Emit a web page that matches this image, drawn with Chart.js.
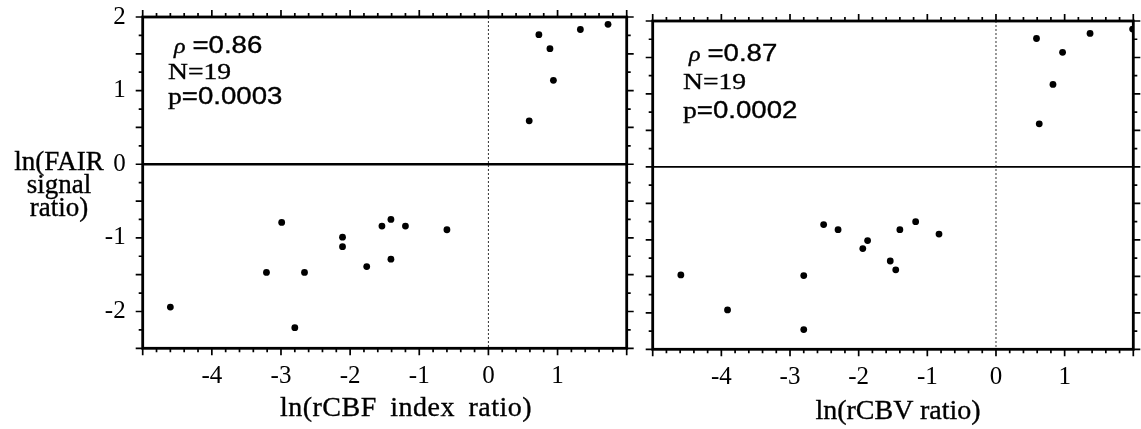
<!DOCTYPE html>
<html>
<head>
<meta charset="utf-8">
<script src="https://cdn.jsdelivr.net/npm/chart.js@4.4.1/dist/chart.umd.min.js"></script>
<style>
html,body{margin:0;padding:0;background:#fff;width:1141px;height:429px;overflow:hidden}
#wrap{position:relative;width:1141px;height:429px}
canvas{position:absolute;top:0}
.t{position:absolute;font-family:'Liberation Serif','DejaVu Serif',serif;color:#000;white-space:nowrap;-webkit-text-stroke:.35px #000}
.sans{font-family:'Liberation Sans',Arial,sans-serif}
.ann{font-size:23px;line-height:25px;transform:scaleX(1.2);transform-origin:0 0}
.ann i{font-size:20px;padding-left:5px}
</style>
</head>
<body>
<div id="wrap">
  <canvas id="c-cbf" width="634" height="429" style="left:0"></canvas>
  <canvas id="c-cbv" width="505" height="429" style="left:636px"></canvas>

  <div class="t" style="left:0;top:150px;width:118px;text-align:center;font-size:27px;line-height:23px">ln(FAIR<br>signal<br>ratio)</div>

  <div class="t ann" style="left:168px;top:33px">
    <div><i>ρ</i> <span class="sans">=0.86</span></div>
    <div>N=19</div>
    <div>p<span class="sans">=0.0003</span></div>
  </div>
  <div class="t ann" style="left:683px;top:39px;line-height:28px">
    <div><i>ρ</i> <span class="sans">=0.87</span></div>
    <div>N=19</div>
    <div>p<span class="sans">=0.0002</span></div>
  </div>

  <div class="t" style="left:406px;top:392px;transform:translateX(-50%);font-size:28px;line-height:30px;word-spacing:6px;letter-spacing:.5px">ln(rCBF index ratio)</div>
  <div class="t" style="left:898px;top:395px;transform:translateX(-50%);font-size:28px;line-height:30px">ln(rCBV ratio)</div>
</div>
<script>
// axes: both panels share the same ranges
var xRange = [-5, 2];
var yRange = [-2.5, 2];
var xLabelTicks = [-4, -3, -2, -1, 0, 1];
var yLabelTicks = [-2, -1, 0, 1, 2];
var xMinorStep = 0.2;
var yMinorStep = 0.25;

// left panel: ln(rCBF index ratio) vs ln(FAIR signal ratio)
var cbfX = [-4.60, -2.99, -3.21, -2.66, -2.80, -2.11, -2.11, -1.76, -1.54, -1.41, -1.41, -1.20, -0.60, 0.59, 0.73, 0.89, 0.94, 1.33, 1.73];
var cbfY = [-1.94, -0.79, -1.47, -1.47, -2.22, -0.99, -1.12, -1.39, -0.84, -0.75, -1.29, -0.84, -0.89, 0.59, 1.76, 1.57, 1.14, 1.83, 1.90];

// right panel: ln(rCBV ratio) vs ln(FAIR signal ratio)
var cbvX = [-4.59, -3.91, -2.80, -2.80, -2.51, -2.30, -1.94, -1.87, -1.54, -1.46, -1.40, -1.17, -0.83, 0.59, 0.63, 0.83, 0.97, 1.37, 1.99];
var cbvY = [-1.48, -1.96, -1.49, -2.23, -0.79, -0.86, -1.12, -1.01, -1.29, -1.41, -0.86, -0.75, -0.92, 1.76, 0.59, 1.13, 1.57, 1.83, 1.89];

(function () {
  'use strict';
  var SERIF = "'Liberation Serif', 'DejaVu Serif', serif";

  function steps(lo, hi, st) { var out = [], n = Math.round((hi - lo) / st); for (var i = 0; i <= n; i++) out.push(lo + i * st); return out; }
  function isInt(v) { return Math.abs(v - Math.round(v)) < 1e-6; }
  function isHalf(v) { return Math.abs(v * 2 - Math.round(v * 2)) < 1e-6; }

  // zero lines under the points, frame + outward ticks on top
  var frame = {
    id: 'frame',
    beforeDatasetsDraw: function (ch, args, o) {
      var ctx = ch.ctx, a = ch.chartArea;
      var x0 = ch.scales.x.getPixelForValue(0), y0 = ch.scales.y.getPixelForValue(0);
      ctx.save();
      ctx.strokeStyle = '#333'; ctx.lineWidth = 1; ctx.setLineDash([2, 2]);
      ctx.beginPath(); ctx.moveTo(x0, a.top); ctx.lineTo(x0, a.bottom); ctx.stroke();
      ctx.setLineDash([]); ctx.strokeStyle = '#000'; ctx.lineWidth = o.zeroW;
      ctx.beginPath(); ctx.moveTo(a.left, y0); ctx.lineTo(a.right, y0); ctx.stroke();
      ctx.restore();
    },
    afterDatasetsDraw: function (ch) {
      var ctx = ch.ctx, a = ch.chartArea, sx = ch.scales.x, sy = ch.scales.y;
      ctx.save();
      ctx.strokeStyle = '#000'; ctx.lineWidth = 1.7;
      ctx.beginPath();
      steps(xRange[0], xRange[1], xMinorStep).forEach(function (v) {
        var p = sx.getPixelForValue(v), l = isInt(v) ? 7 : 4;
        ctx.moveTo(p, a.top); ctx.lineTo(p, a.top - l);
        ctx.moveTo(p, a.bottom); ctx.lineTo(p, a.bottom + l);
      });
      steps(yRange[0], yRange[1], yMinorStep).forEach(function (v) {
        var p = sy.getPixelForValue(v), l = isHalf(v) ? 7 : 4;
        ctx.moveTo(a.left, p); ctx.lineTo(a.left - l, p);
        ctx.moveTo(a.right, p); ctx.lineTo(a.right + l, p);
      });
      ctx.stroke();
      ctx.lineWidth = 2.8;
      ctx.strokeRect(a.left, a.top, a.right - a.left, a.bottom - a.top);
      ctx.restore();
    }
  };

  function panel(id, xs, ys, box) {
    var c = document.getElementById(id);
    var pts = xs.map(function (x, i) { return { x: x, y: ys[i] }; });
    return new Chart(c.getContext('2d'), {
      type: 'scatter',
      data: { datasets: [{ data: pts, backgroundColor: '#000', borderWidth: 0, pointRadius: 3.4, pointHoverRadius: 3.4 }] },
      options: {
        responsive: false, animation: false, events: [],
        layout: { padding: { top: box.top, right: box.right, left: 0, bottom: 0 } },
        plugins: { legend: { display: false }, tooltip: { enabled: false }, frame: { zeroW: box.zeroW } },
        scales: {
          x: {
            type: 'linear', min: xRange[0], max: xRange[1],
            grid: { display: false, drawTicks: false }, border: { display: false },
            afterBuildTicks: function (s) { s.ticks = xLabelTicks.map(function (v) { return { value: v }; }); },
            afterFit: function (s) { s.height = box.bottom; s.paddingLeft = 0; s.paddingRight = 0; },
            ticks: { color: '#000', padding: 13, autoSkip: false, maxRotation: 0, font: { family: SERIF, size: 25 }, callback: function (v) { return String(v); } }
          },
          y: {
            type: 'linear', min: yRange[0], max: yRange[1],
            grid: { display: false, drawTicks: false }, border: { display: false },
            afterBuildTicks: function (s) { s.ticks = yLabelTicks.map(function (v) { return { value: v }; }); },
            afterFit: function (s) { s.width = box.left; s.paddingTop = 0; s.paddingBottom = 0; },
            ticks: { display: box.yLabels, color: '#000', padding: 17, font: { family: SERIF, size: 25 }, callback: function (v) { return String(v); } }
          }
        }
      },
      plugins: [frame]
    });
  }

  panel('c-cbf', cbfX, cbfY, { left: 142.7, right: 7.3, top: 17, bottom: 80.7, zeroW: 2.4, yLabels: true });
  panel('c-cbv', cbvX, cbvY, { left: 16.7, right: 7.7, top: 21, bottom: 79.7, zeroW: 1.7, yLabels: false });
})();
</script>
</body>
</html>
